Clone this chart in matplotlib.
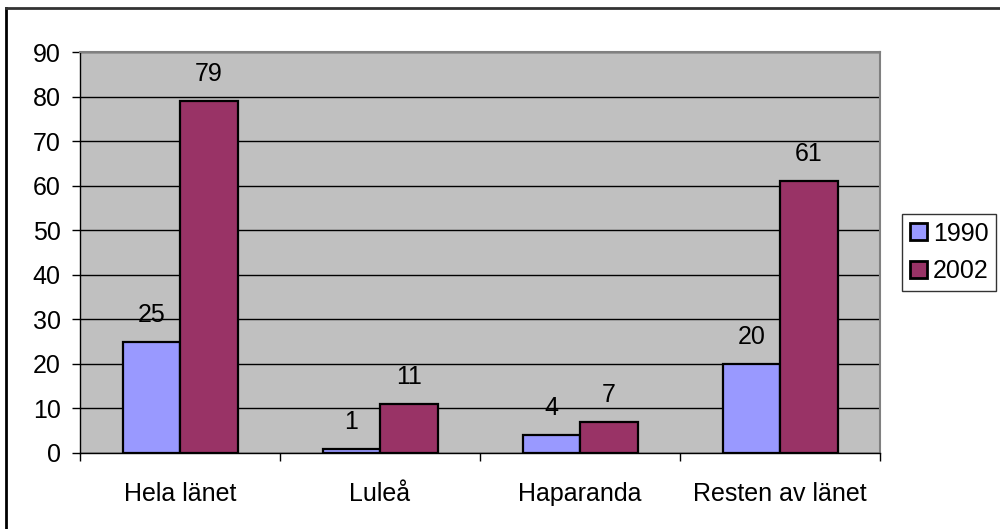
import matplotlib
matplotlib.use("Agg")
import matplotlib.pyplot as plt
import numpy as np
from matplotlib.lines import Line2D

plt.rcParams['font.family'] = ['Liberation Sans', 'DejaVu Sans']

categories = ["Hela länet", "Luleå", "Haparanda", "Resten av länet"]
series_names = ["1990", "2002"]
values_1990 = [25, 1, 4, 20]
values_2002 = [79, 11, 7, 61]
colors = ["#9999FF", "#993366"]

fig = plt.figure(figsize=(10, 5.29), dpi=100)
ax = fig.add_axes([0.08, 0.1437, 0.80, 0.758])
ax.set_facecolor("#C0C0C0")

x = np.arange(len(categories))
w = 0.2875
fs = 18
for i, (vals, name, c) in enumerate(zip([values_1990, values_2002], series_names, colors)):
    pos = x + (i - 0.5) * w
    ax.bar(pos, vals, width=w, color=c, edgecolor="black", linewidth=1.6, label=name, zorder=3)
    for xi, v in zip(pos, vals):
        ax.annotate(str(v), (xi, v), xytext=(0, 15), textcoords="offset pixels",
                    ha="center", va="bottom", fontsize=fs, zorder=4)

ax.set_xlim(-0.5, 3.5)
ax.set_ylim(0, 90)
ax.set_yticks(range(0, 91, 10))
ax.yaxis.grid(True, color="black", linewidth=1, zorder=1)
ax.set_axisbelow(True)
ax.set_xticks(x)
ax.set_xticklabels(categories, fontsize=fs)
ax.tick_params(axis="x", length=0, pad=21)
ax.tick_params(axis="y", length=5.8, width=1, labelsize=fs, pad=8, direction="out")
ax.set_xticks(np.arange(-0.5, 3.6, 1), minor=True)
ax.tick_params(axis="x", which="minor", length=5.8, width=1, direction="out")
for s in ["top", "right"]:
    ax.spines[s].set_color("#808080")
    ax.spines[s].set_linewidth(1.5)
for s in ["left", "bottom"]:
    ax.spines[s].set_color("black")
    ax.spines[s].set_linewidth(1)

leg = ax.legend(loc="center left", bbox_to_anchor=(1.0275, 0.50), frameon=True,
                fontsize=fs, handlelength=0.68, handleheight=0.68, handletextpad=0.25,
                borderpad=0.3, labelspacing=0.55, fancybox=False, edgecolor="black",
                borderaxespad=0)
leg.get_frame().set_linewidth(1)
for h in leg.legend_handles:
    h.set_linewidth(2)

# outer chart border
fig.add_artist(Line2D([6/1000, 6/1000], [0, 1 - 8/529], color="black", linewidth=2, transform=fig.transFigure))
fig.add_artist(Line2D([6/1000, 1], [1 - 8/529, 1 - 8/529], color="#333333", linewidth=2, transform=fig.transFigure))

fig.savefig("out.png", dpi=100)
